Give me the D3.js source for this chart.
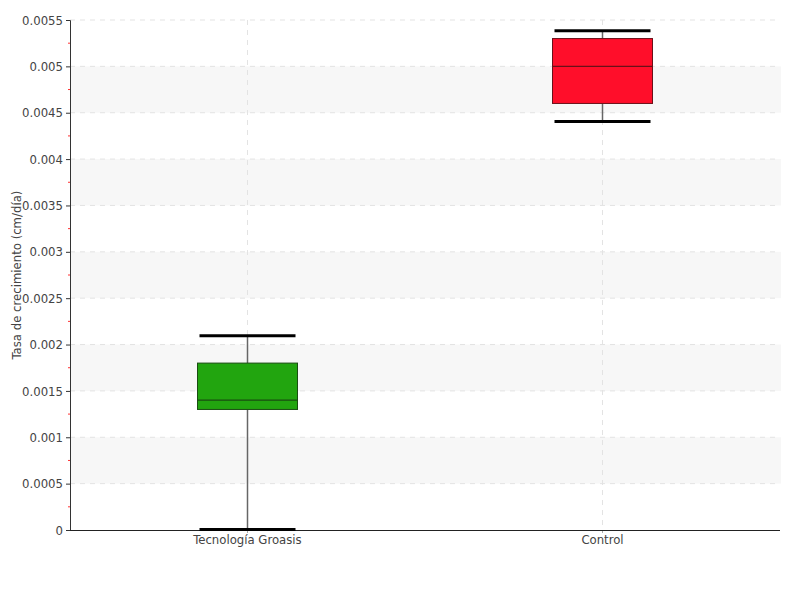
<!DOCTYPE html>
<html><head><meta charset="utf-8">
<script src="https://cdn.jsdelivr.net/npm/d3@7"></script>
<style>body{margin:0;background:#fff}svg{display:block}text{font-family:"DejaVu Sans Condensed","Liberation Sans Narrow",Roboto,sans-serif;font-stretch:condensed;font-weight:300;fill:#444}</style>
</head><body><svg id="c" width="800" height="600"></svg>
<script>
const categories = ["Tecnología Groasis", "Control"];
const whiskerLow = [0.0, 0.0044];
const q1 = [0.0013, 0.0046];
const median = [0.0014, 0.005];
const q3 = [0.0018, 0.0053];
const whiskerHigh = [0.00209, 0.00538];
const colors = ["#22a50f", "#ff0e2a"];
const strokes = ["#1a4d12", "#6a1019"];
const yTicks = [0,0.0005,0.001,0.0015,0.002,0.0025,0.003,0.0035,0.004,0.0045,0.005,0.0055];
const yTickLabels = ["0","0.0005","0.001","0.0015","0.002","0.0025","0.003","0.0035","0.004","0.0045","0.005","0.0055"];
const yTitle = "Tasa de crecimiento (cm/día)";

const svg = d3.select("#c");
const L=70,R=780,T=20,B=530;
const y = d3.scaleLinear().domain([0,0.0055]).range([B,T]);
const x = d3.scaleBand().domain(categories).range([L,R]);

for(let i=1;i<yTicks.length-1;i+=2){
  svg.append("rect").attr("x",L).attr("width",R-L+1)
    .attr("y",y(yTicks[i+1])).attr("height",y(yTicks[i])-y(yTicks[i+1]))
    .attr("fill","#f7f7f7");
}
svg.append("g").selectAll("line").data(yTicks.slice(1)).join("line")
  .attr("x1",L).attr("x2",R).attr("y1",d=>y(d)).attr("y2",d=>y(d))
  .attr("stroke","#e3e3e3").attr("stroke-dasharray","5,5");
svg.append("g").selectAll("line").data(categories).join("line")
  .attr("x1",d=>x(d)+x.bandwidth()/2).attr("x2",d=>x(d)+x.bandwidth()/2)
  .attr("y1",T).attr("y2",B).attr("stroke","#e3e3e3").attr("stroke-dasharray","5,5");

const minor = d3.range(0.00025,0.0055,0.0005);
svg.append("g").selectAll("line").data(minor).join("line")
  .attr("x1",L-2).attr("x2",L).attr("y1",d=>y(d)).attr("y2",d=>y(d))
  .attr("stroke","#ff3333");

const ya = svg.append("g").attr("transform",`translate(${L},0)`)
  .call(d3.axisLeft(y).tickValues(yTicks).tickFormat((d,i)=>yTickLabels[i]).tickSizeOuter(0).tickSize(4).tickPadding(3));
ya.select(".domain").attr("stroke","#333");
ya.selectAll(".tick line").attr("stroke","#333");
ya.selectAll("text").attr("font-size",13).style("fill","#444");

const xa = svg.append("g").attr("transform",`translate(0,${B})`)
  .call(d3.axisBottom(x).tickSizeOuter(0).tickSize(3).tickPadding(2));
xa.select(".domain").remove();
xa.selectAll(".tick line").attr("stroke","#aaa");
xa.selectAll("text").attr("font-size",13).style("fill","#444");
svg.append("line").attr("x1",L).attr("x2",R).attr("y1",B+0.5).attr("y2",B+0.5).attr("stroke","#222");

svg.append("text").attr("transform",`translate(21,${(T+B)/2}) rotate(-90)`)
  .attr("text-anchor","middle").attr("font-size",13).text(yTitle);

const bw = 100, cw = 96;
categories.forEach((c,i)=>{
  const cx = x(c)+x.bandwidth()/2;
  const g = svg.append("g");
  g.append("line").attr("x1",cx).attr("x2",cx).attr("y1",y(whiskerLow[i])).attr("y2",y(q1[i]))
    .attr("stroke","#666").attr("stroke-width",1.5);
  g.append("line").attr("x1",cx).attr("x2",cx).attr("y1",y(q3[i])).attr("y2",y(whiskerHigh[i]))
    .attr("stroke","#666").attr("stroke-width",1.5);
  g.append("rect").attr("x",cx-bw/2).attr("width",bw).attr("y",y(q3[i])).attr("height",y(q1[i])-y(q3[i]))
    .attr("fill",colors[i]).attr("stroke",strokes[i]).attr("stroke-width",1);
  g.append("line").attr("x1",cx-bw/2).attr("x2",cx+bw/2).attr("y1",y(median[i])).attr("y2",y(median[i]))
    .attr("stroke",strokes[i]).attr("stroke-width",1.2);
  [whiskerLow[i],whiskerHigh[i]].forEach(v=>{
    g.append("line").attr("x1",cx-cw/2).attr("x2",cx+cw/2).attr("y1",y(v)-0.5).attr("y2",y(v)-0.5)
      .attr("stroke","#000").attr("stroke-width",3);
  });
});
</script></body></html>
